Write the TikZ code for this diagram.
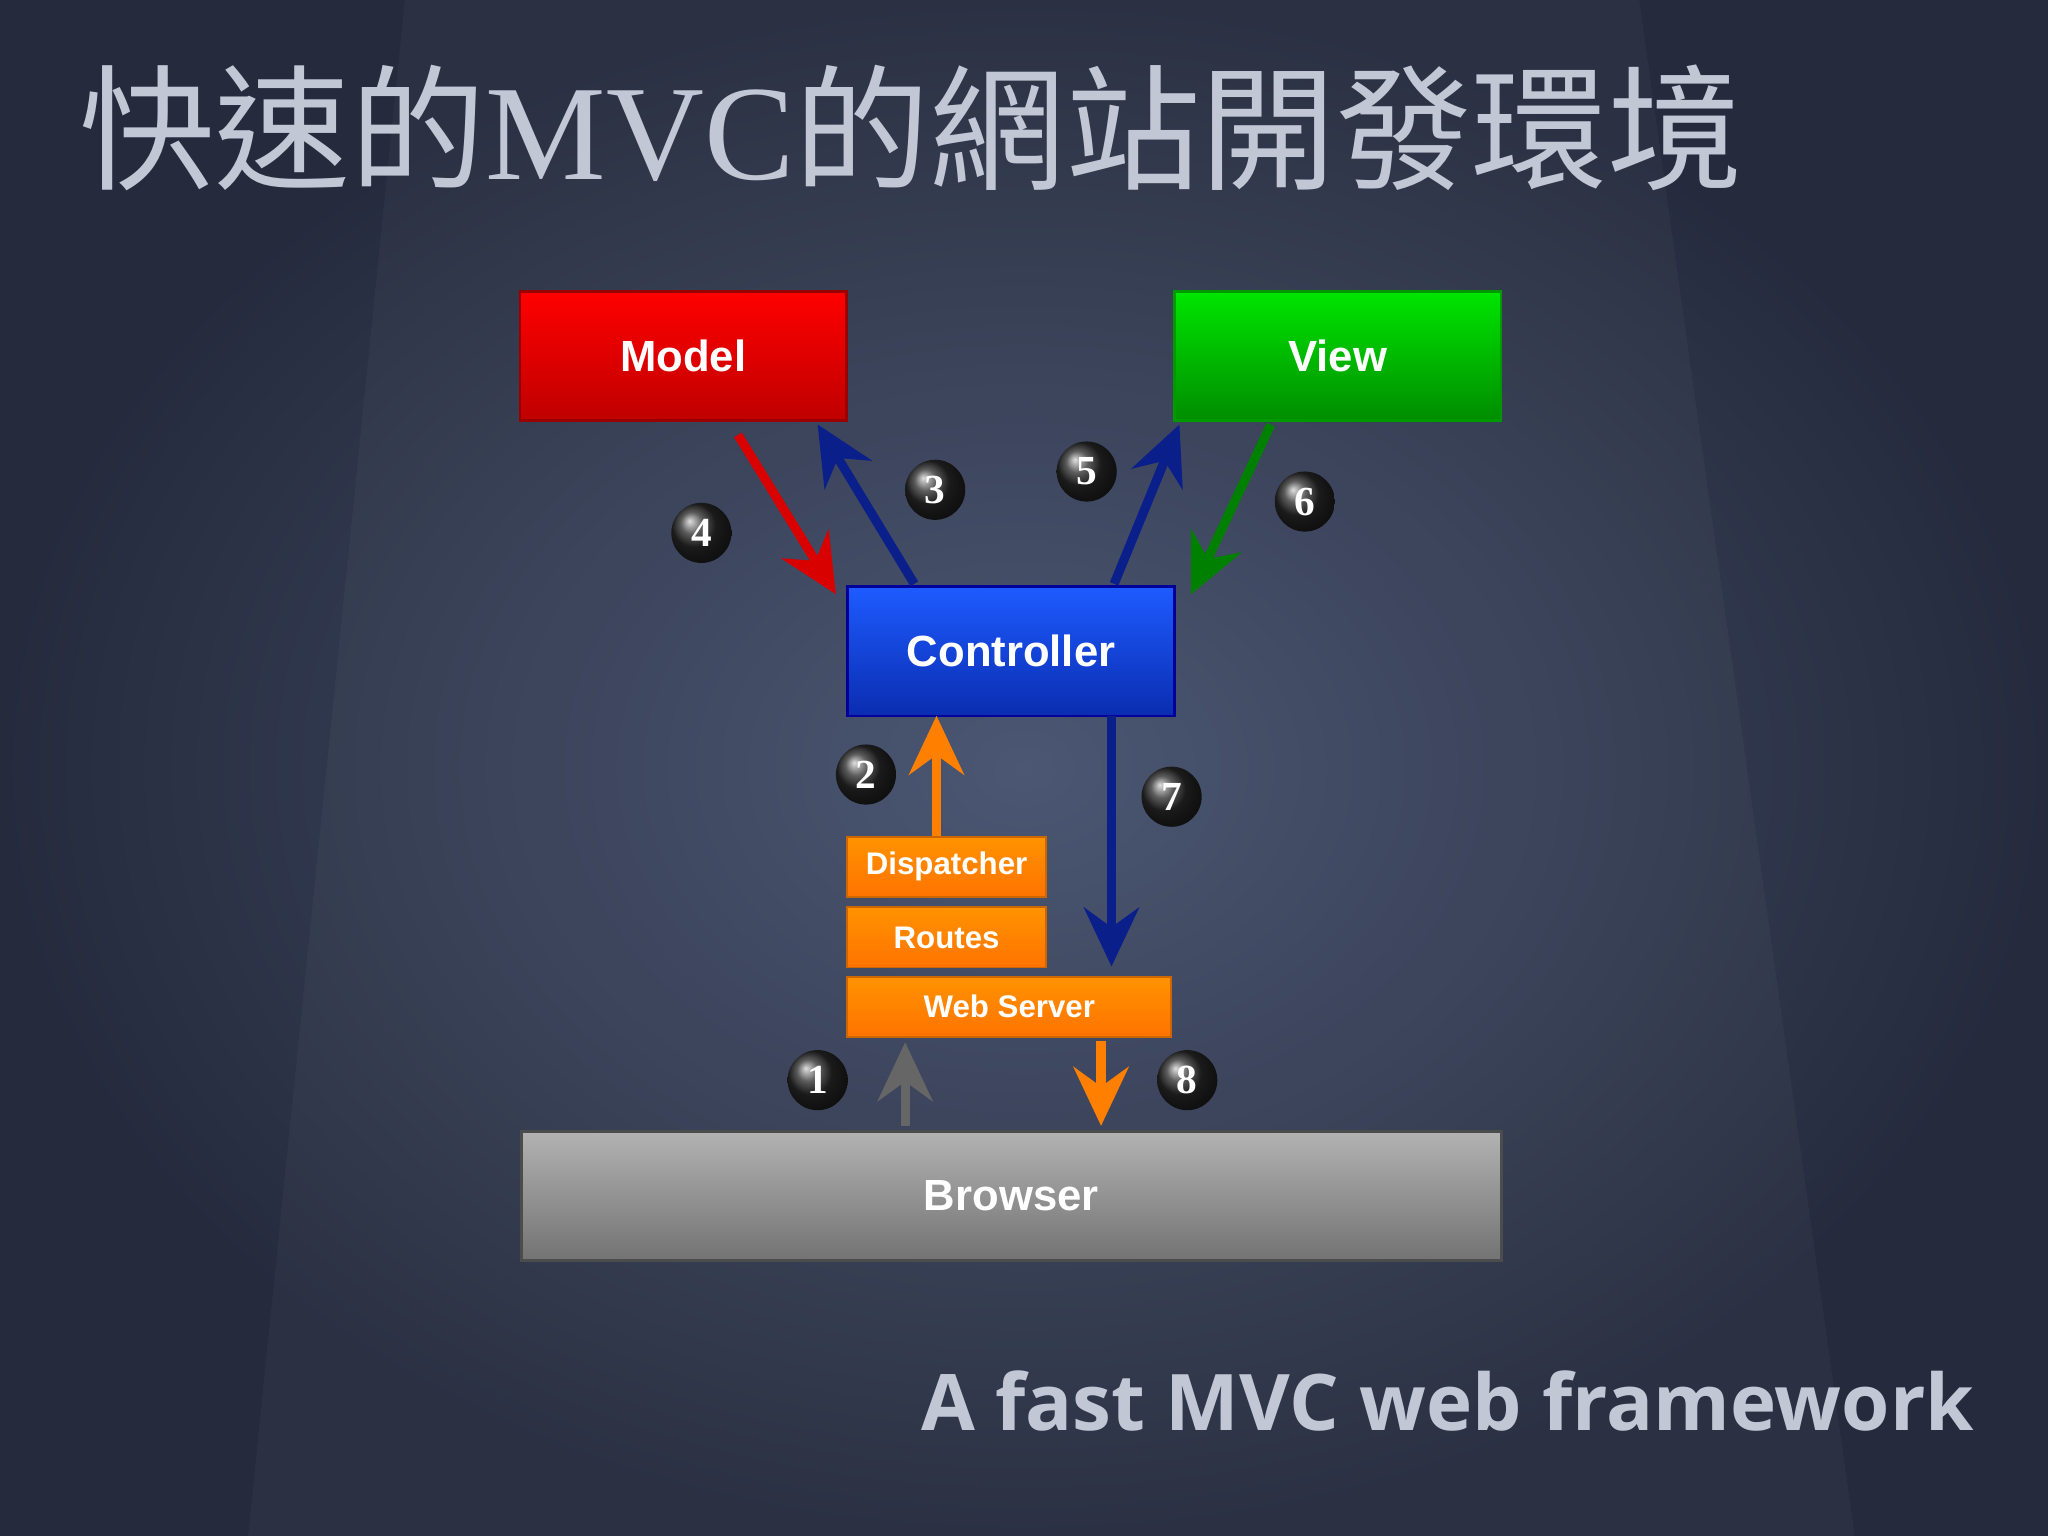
\documentclass[tikz,border=0pt]{standalone}
\usepackage{fontspec}
\setmainfont{Liberation Sans}
\newfontfamily\cjk{Noto Sans CJK TC}
\newfontfamily\sub{Open Sans}
\newfontfamily\numf{Liberation Serif}
\usetikzlibrary{arrows.meta,shadings}
\definecolor{bgd}{HTML}{252B3D}
\definecolor{bgl}{HTML}{46526F}
\definecolor{ttl}{HTML}{C2C7D6}
\definecolor{ctop}{HTML}{1E5BFF}
\definecolor{cbot}{HTML}{0A2DB0}
\definecolor{darr}{HTML}{0A1F8A}
\tikzset{x=0.01cm,y=-0.01cm,
 box/.style={draw=#1!60!black,line width=0.6pt,minimum width=2.5cm,minimum height=0.99cm,anchor=north west,inner sep=0,text=white,font=\bfseries\fontsize{9.5}{9.5}\selectfont},
 obox/.style={draw=orange!80!black,top color=orange!85!yellow,bottom color=orange!90!red,anchor=north west,inner sep=0,minimum height=0.46cm,text=white,font=\bfseries\fontsize{6.8}{6.8}\selectfont},
 arr/.style={draw=#1,line width=0.07cm,-{Stealth[length=0.45cm,width=0.42cm,inset=0.15cm]}},
 num/.style={circle,minimum size=0.46cm,inner sep=0,ball color=black!85,text=white,font=\numf\bfseries\fontsize{9}{9}\selectfont}}
\begin{document}
\begin{tikzpicture}
\useasboundingbox (0,0) rectangle (1568,1176);
\shade[inner color=bgl,outer color=bgd] (0,0) rectangle (1568,1176);
\fill[white,opacity=0.03] (310,0) -- (1255,0) -- (1420,1176) -- (190,1176) -- cycle;
\node[anchor=west,text=ttl,inner sep=0,font=\cjk\fontsize{29.5}{29.5}\selectfont] (title) at (60,98) {快速的\fontspec{Liberation Serif}MVC\cjk 的網站開發環境};
\node[anchor=east,text=ttl,inner sep=0,font=\sub\bfseries\fontsize{17}{17}\selectfont] (subtitle) at (1512,1073) {A fast MVC web framework};
\node[box=red,top color=red!100,bottom color=red!75!black] (model) at (397,222) {Model};
\node[box=green,top color=green!90!black,bottom color=green!55!black] (view) at (898,222) {View};
\node[box=blue,top color=ctop,bottom color=cbot] (ctrl) at (648,448) {Controller};
\node[obox,minimum width=1.52cm] (disp) at (648,640) {Dispatcher};
\node[obox,minimum width=1.52cm] (routes) at (648,694) {Routes};
\node[obox,minimum width=2.48cm] (web) at (648,747) {Web Server};
\node[box=gray,top color=gray!60,bottom color=gray!90!black,minimum width=7.5cm] (browser) at (398,865) {Browser};
\coordinate (a4s) at (565,333); \coordinate (a4e) at (640,455);
\coordinate (a3s) at (700,447); \coordinate (a3e) at (626,325);
\coordinate (a5s) at (853,447); \coordinate (a5e) at (903,325);
\coordinate (a6s) at (973,325); \coordinate (a6e) at (912,455);
\coordinate (a2s) at (717,640); \coordinate (a2e) at (717,548);
\coordinate (a7s) at (851,548); \coordinate (a7e) at (851,740);
\coordinate (a1s) at (693,862); \coordinate (a1e) at (693,798);
\coordinate (a8s) at (843,797); \coordinate (a8e) at (843,862);
\draw[arr={red!85!black}] (a4s) -- (a4e);
\draw[arr=darr] (a3s) -- (a3e);
\draw[arr=darr] (a5s) -- (a5e);
\draw[arr={green!50!black}] (a6s) -- (a6e);
\draw[arr=orange] (a2s) -- (a2e);
\draw[arr=darr] (a7s) -- (a7e);
\draw[arr=gray!80!black] (a1s) -- (a1e);
\draw[arr=orange] (a8s) -- (a8e);
\node[num] (n4) at (537,408) {4};
\node[num] (n3) at (716,375) {3};
\node[num] (n5) at (832,361) {5};
\node[num] (n6) at (999,384) {6};
\node[num] (n2) at (663,593) {2};
\node[num] (n7) at (897,610) {7};
\node[num] (n1) at (626,827) {1};
\node[num] (n8) at (909,827) {8};
\end{tikzpicture}
\end{document}
